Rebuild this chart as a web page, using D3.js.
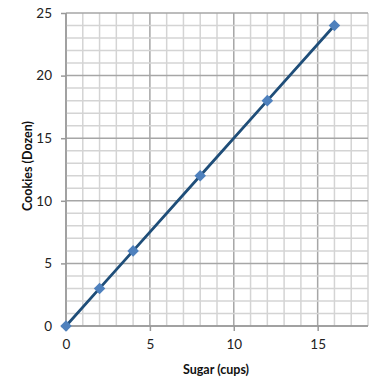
<!DOCTYPE html>
<html><head><meta charset="utf-8">
<script src="https://cdn.jsdelivr.net/npm/d3@7"></script>
<style>body{margin:0;background:#fff}svg{display:block}</style>
</head><body>
<script>
const sugar = [0, 2, 4, 8, 12, 16];
const cookies = [0, 3, 6, 12, 18, 24];
const xTicks = [0, 5, 10, 15];
const yTicks = [0, 5, 10, 15, 20, 25];
const xTitle = "Sugar (cups)";
const yTitle = "Cookies (Dozen)";

const W = 377, H = 387;
const m = {left: 66, right: 9, top: 13, bottom: 61};
const svg = d3.select("body").append("svg").attr("width", W).attr("height", H);
const x = d3.scaleLinear().domain([0, 18]).range([m.left, W - m.right]);
const y = d3.scaleLinear().domain([0, 25]).range([H - m.bottom, m.top]);
const font = "Lato, 'Open Sans', sans-serif";

const g = svg.append("g");
g.selectAll(".vx").data(d3.range(0, 19)).join("line")
  .attr("x1", d => x(d)).attr("x2", d => x(d))
  .attr("y1", y(0)).attr("y2", y(25))
  .attr("stroke", d => d % 5 === 0 ? "#a6a6a6" : "#d4d4d4").attr("stroke-width", 1.5);
g.selectAll(".hy").data(d3.range(0, 26)).join("line")
  .attr("y1", d => y(d)).attr("y2", d => y(d))
  .attr("x1", x(0)).attr("x2", x(18))
  .attr("stroke", d => d % 5 === 0 ? "#a6a6a6" : "#d4d4d4").attr("stroke-width", 1.5);
g.append("line").attr("x1", x(0)).attr("x2", x(0)).attr("y1", y(0)).attr("y2", y(25)).attr("stroke", "#999").attr("stroke-width", 1.5);
g.append("line").attr("x1", x(0)).attr("x2", x(18)).attr("y1", y(0)).attr("y2", y(0)).attr("stroke", "#999").attr("stroke-width", 1.5);

const xa = svg.append("g").attr("transform", `translate(0,${y(0)})`)
  .call(d3.axisBottom(x).tickValues(xTicks).tickSize(5).tickPadding(8).tickFormat(d3.format("d")));
const ya = svg.append("g").attr("transform", `translate(${x(0)},0)`)
  .call(d3.axisLeft(y).tickValues(yTicks).tickSize(5).tickPadding(9).tickFormat(d3.format("d")));
[xa, ya].forEach(a => {
  a.select(".domain").remove();
  a.selectAll(".tick line").attr("stroke", "#999").attr("stroke-width", 1.5);
  a.selectAll("text").attr("font-family", font).attr("font-size", 13.5).attr("fill", "#222");
});

const pts = sugar.map((s, i) => [s, cookies[i]]);
svg.append("path").datum(pts)
  .attr("d", d3.line().x(d => x(d[0])).y(d => y(d[1])))
  .attr("fill", "none").attr("stroke", "#1f4e79").attr("stroke-width", 2.8);
svg.selectAll(".pt").data(pts).join("path")
  .attr("transform", d => `translate(${x(d[0])},${y(d[1])})`)
  .attr("d", d3.symbol().type(d3.symbolDiamond2).size(85))
  .attr("fill", "#4f81bd");

svg.append("text").attr("x", 216).attr("y", 374).attr("text-anchor", "middle")
  .attr("font-family", font).attr("font-weight", "bold").attr("font-size", 12.5).attr("fill", "#111").text(xTitle);
svg.append("text").attr("transform", `translate(32,166) rotate(-90)`).attr("text-anchor", "middle")
  .attr("font-family", font).attr("font-weight", "bold").attr("font-size", 12.5).attr("fill", "#111").text(yTitle);
</script>
</body></html>
